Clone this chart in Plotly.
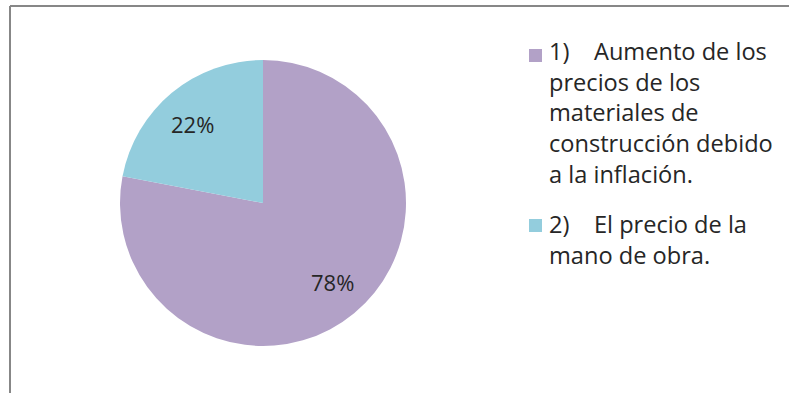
import math
import plotly.graph_objects as go

# Survey results: causes of the cost increase
labels = ["1)\u00a0\u00a0\u00a0\u00a0Aumento de los<br>precios de los<br>materiales de<br>construcción debido<br>a la inflación.",
          "2)\u00a0\u00a0\u00a0\u00a0El precio de la<br>mano de obra."]
values = [78, 22]
colors = ["#B2A1C7", "#93CDDD"]

W, H = 789, 393
FONT = "Open Sans"
TEXT = "#262626"

# pie geometry in pixels
CX, CY, R = 263, 203, 143

fig = go.Figure()
fig.add_trace(go.Pie(
    labels=labels,
    values=values,
    marker=dict(colors=colors, line=dict(width=0)),
    sort=False,
    direction="clockwise",
    rotation=0,
    textinfo="none",
    showlegend=False,
    hoverinfo="skip",
    domain=dict(x=[(CX - R) / W, (CX + R) / W], y=[1 - (CY + R) / H, 1 - (CY - R) / H]),
))

# Percentage labels placed at the middle angle of each slice
total = sum(values)
start = 0.0
for v in values:
    frac = v / total
    mid = (start + frac / 2) * 2 * math.pi
    start += frac
    px = CX + 0.74 * R * math.sin(mid) + (2 if math.sin(mid) > 0 else -3)
    py = CY - 0.72 * R * math.cos(mid)
    fig.add_annotation(xref="paper", yref="paper", x=px / W, y=1 - py / H,
                       xanchor="center", yanchor="middle", showarrow=False,
                       text=f"{round(frac * 100)}%",
                       font=dict(family=FONT, size=22, color=TEXT))

# Legend drawn as swatches + wrapped text blocks
legend_tops = [33, 206]
swatch_tops = [49, 219]
for lab, col, top, st in zip(labels, colors, legend_tops, swatch_tops):
    fig.add_shape(type="rect", xref="paper", yref="paper",
                  x0=529 / W, x1=542 / W,
                  y0=1 - st / H, y1=1 - (st + 13) / H,
                  fillcolor=col, line=dict(width=0))
    fig.add_annotation(xref="paper", yref="paper", x=547 / W, y=1 - top / H,
                       xanchor="left", yanchor="top", align="left",
                       text=lab, showarrow=False,
                       font=dict(family=FONT, size=23.6, color=TEXT))

# Chart frame (top and left edges)
fig.add_shape(type="line", xref="paper", yref="paper",
              x0=10 / W, x1=1, y0=1 - 6 / H, y1=1 - 6 / H,
              line=dict(color="#878787", width=2))
fig.add_shape(type="line", xref="paper", yref="paper",
              x0=10 / W, x1=10 / W, y0=0, y1=1 - 6 / H,
              line=dict(color="#878787", width=2))

fig.update_layout(
    width=W, height=H,
    margin=dict(l=0, r=0, t=0, b=0),
    paper_bgcolor="white",
    plot_bgcolor="white",
)

fig.write_html("out.html")
